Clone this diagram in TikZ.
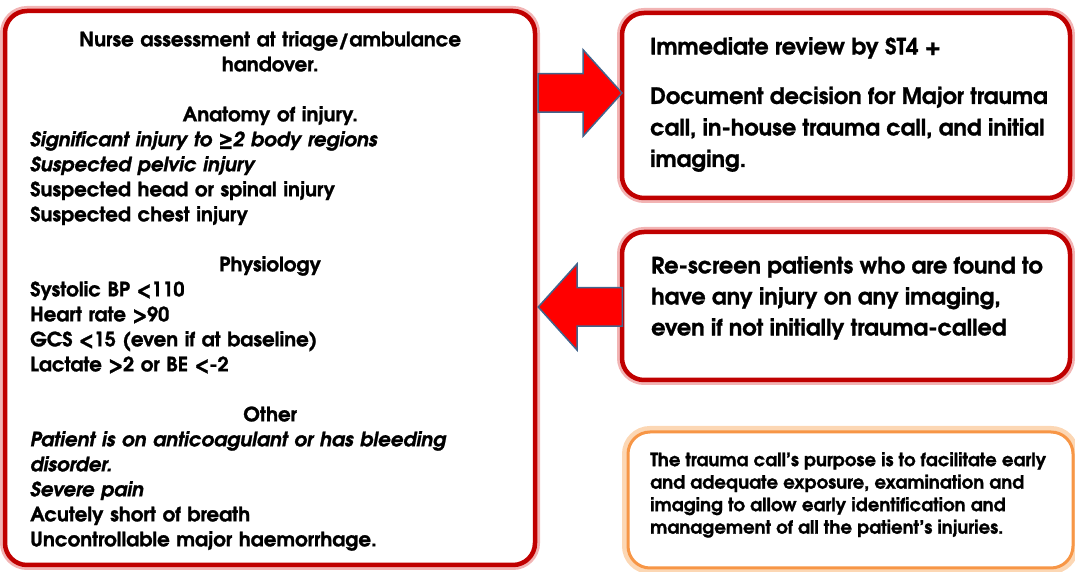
\documentclass[tikz,border=0pt]{standalone}
\usepackage{fontspec}
\setmainfont{TeX Gyre Adventor}[BoldFeatures={FakeBold=1.2}, BoldItalicFeatures={FakeBold=1.2}]
\usetikzlibrary{shapes.arrows,positioning,calc}
\definecolor{boxred}{RGB}{192,0,0}
\definecolor{glowred}{RGB}{242,180,180}
\definecolor{arrowred}{RGB}{255,0,0}
\definecolor{arrowedge}{RGB}{65,100,140}
\definecolor{noteorange}{RGB}{247,150,70}
\definecolor{gloworange}{RGB}{252,215,180}

\begin{document}
\begin{tikzpicture}[
  x=1pt, y=1pt,
  redbox/.style={draw=boxred, line width=4.5pt, rounded corners=22pt, fill=white,
    preaction={draw=glowred, line width=10pt}},
  notebox/.style={draw=noteorange, line width=3pt, rounded corners=22pt, fill=white,
    preaction={draw=gloworange, line width=12pt}},
  txt/.style={anchor=north west, inner sep=0pt, align=left},
  blockarrow/.style={single arrow, draw=arrowedge, line width=1.5pt, fill=arrowred,
    inner xsep=0pt, inner ysep=18.5pt, minimum width=85pt,
    single arrow head extend=24pt, single arrow tip angle=96, minimum height=84pt}
]
\useasboundingbox (0,0) rectangle (1075,572);
% boxes
\node[redbox, minimum width=530, minimum height=554] (criteria) at (270,284) {};
\node[redbox, minimum width=448, minimum height=185] (review) at (846,466.5) {};
\node[redbox, minimum width=448, minimum height=148] (rescreen) at (846,266) {};
\node[notebox, minimum width=445, minimum height=136] (purpose) at (850.5,72) {};

% box texts
\node[txt, text width=480, font=\fontsize{19.8}{25}\selectfont\bfseries] (criteriatext) at (30,541) {%
  \hfill Nurse assessment at triage/ambulance\hfill\mbox{}\\
  \hfill handover.\hfill\mbox{}\\[25pt]
  \hfill Anatomy of injury.\hfill\mbox{}\\
  \textit{Significant injury to ≥2 body regions}\\
  \textit{Suspected pelvic injury}\\
  Suspected head or spinal injury\\
  Suspected chest injury\\[25pt]
  \hfill Physiology\hfill\mbox{}\\
  Systolic BP <110\\
  Heart rate >90\\
  GCS <15 (even if at baseline)\\
  Lactate >2 or BE <-2\\[25pt]
  \hfill Other\hfill\mbox{}\\
  \textit{Patient is on anticoagulant or has bleeding}\\
  \textit{disorder.}\\
  \textit{Severe pain}\\
  Acutely short of breath\\
  Uncontrollable major haemorrhage.};
\node[txt, font=\fontsize{22.4}{31.5}\selectfont\bfseries] (reviewtext) at (650,535) {%
  Immediate review by ST4 +\\[18pt]
  Document decision for Major trauma\\
  call, in-house trauma call, and initial\\
  imaging.};
\node[txt, font=\fontsize{22.4}{31}\selectfont\bfseries] (rescreentext) at (651,316) {%
  Re-screen patients who are found to\\
  have any injury on any imaging,\\
  even if not initially trauma-called};
\node[txt, font=\fontsize{18.2}{22.5}\selectfont\bfseries] (purposetext) at (650,120) {%
  The trauma call's purpose is to facilitate early\\
  and adequate exposure, examination and\\
  imaging to allow early identification and\\
  management of all the patient's injuries.};

% arrows
\coordinate (goy) at (0,479);
\coordinate (backy) at (0,265);
\node[blockarrow, anchor=tail] (goarrow) at (criteria.east |- goy) {};
\node[blockarrow, shape border rotate=180, anchor=tip] (backarrow) at (criteria.east |- backy) {};
\end{tikzpicture}
\end{document}
